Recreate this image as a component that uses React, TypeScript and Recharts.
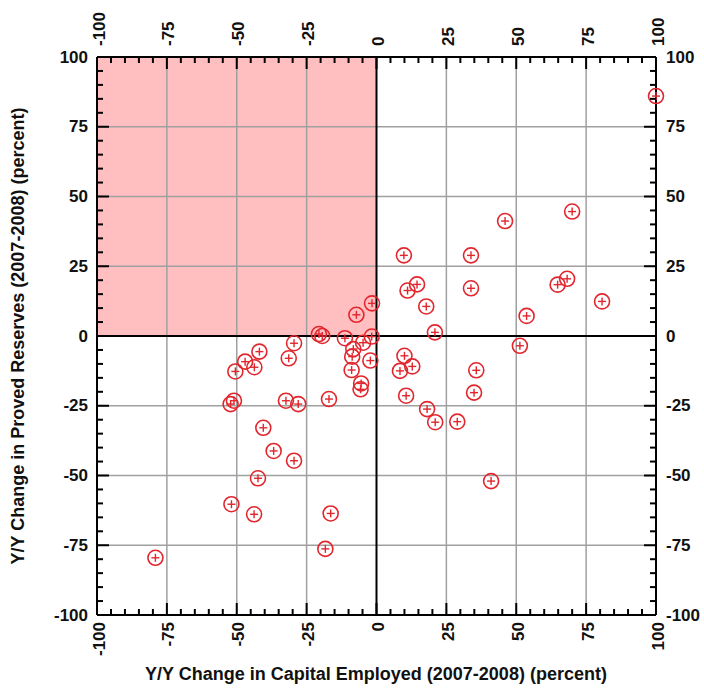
import React from "react";
import { ScatterChart, Scatter, XAxis, YAxis, ReferenceArea, ReferenceLine } from "recharts";

// Y/Y change in capital employed (x) and proved reserves (y), percent, one entry per company
const capitalEmployed = [
  100, 70, 46, 9.8, 33.8, 14.5, 11.1, 33.8, 17.8, 20.9, 64.8, 68.2, 80.7, 53.7,
  51.3, 10, 12.8, 8.4, 35.7, 34.9, 10.6, 18.1, 21, 28.9, 41,
  -1.6, -7.2, -20.6, -19.4, -11.3, -4.8, -1.7, -29.5, -31.4, -8.3, -8.7, -8.9, -2.2,
  -5.5, -5.7, -32.4, -28, -17, -41.9, -47, -43.7, -50.5, -51, -52.2, -40.5, -36.8,
  -29.5, -42.4, -51.9, -43.8, -16.4, -18.3, -79.1,
];
const provedReserves = [
  86, 44.6, 41.2, 28.9, 28.9, 18.5, 16.3, 17.1, 10.6, 1.3, 18.4, 20.5, 12.4, 7.2,
  -3.5, -7.1, -10.9, -12.5, -12.3, -20.3, -21.4, -26.2, -30.9, -30.7, -52,
  11.7, 7.6, 0.7, 0, -0.8, -2.4, -0.2, -2.6, -8, -4.7, -7.4, -12.2, -8.8,
  -17, -19.1, -23.2, -24.4, -22.6, -5.6, -9.2, -11.2, -12.7, -23.2, -24.4, -32.9, -41.2,
  -44.7, -51, -60.3, -63.9, -63.6, -76.3, -79.5,
];

const majorTicks = [-100, -75, -50, -25, 0, 25, 50, 75, 100];
const gridTicks = [-75, -50, -25, 25, 50, 75];

// four minor ticks between each pair of labelled ticks
const allTicks = majorTicks.flatMap((t, i) =>
  i === majorTicks.length - 1 ? [t] : [t, t + 5, t + 10, t + 15, t + 20]
);

const points = capitalEmployed.map((x, i) => ({ x, y: provedReserves[i] }));

const RED = "#e2262d";
const FONT = "'Liberation Sans', Arial, sans-serif";

const labelStyle = { fontFamily: FONT, fontWeight: 700, fontSize: 17, fill: "#111" };

function makeTick(side: "top" | "bottom" | "left" | "right") {
  return (props: any) => {
    const { x, y, payload } = props;
    const v = payload.value;
    const major = majorTicks.includes(v);
    const len = major ? 12 : 6;
    let line;
    let label = null;
    if (side === "bottom") {
      line = <line x1={x} y1={y} x2={x} y2={y - len} stroke="#000" strokeWidth={2} />;
      if (major)
        label = (
          <text x={x + 2} y={y + 7} transform={`rotate(-90, ${x + 2}, ${y + 7})`} textAnchor="end" dominantBaseline="central" {...labelStyle}>
            {v}
          </text>
        );
    } else if (side === "top") {
      line = <line x1={x} y1={y} x2={x} y2={y + len} stroke="#000" strokeWidth={2} />;
      if (major)
        label = (
          <text x={x + 2} y={y - 11} transform={`rotate(-90, ${x + 2}, ${y - 11})`} textAnchor="start" dominantBaseline="central" {...labelStyle}>
            {v}
          </text>
        );
    } else if (side === "left") {
      line = <line x1={x} y1={y} x2={x + len} y2={y} stroke="#000" strokeWidth={2} />;
      if (major)
        label = (
          <text x={x - 9} y={y} textAnchor="end" dominantBaseline="central" {...labelStyle}>
            {v}
          </text>
        );
    } else {
      line = <line x1={x} y1={y} x2={x - len} y2={y} stroke="#000" strokeWidth={2} />;
      if (major)
        label = (
          <text x={x + 10} y={y} textAnchor="start" dominantBaseline="central" {...labelStyle}>
            {v}
          </text>
        );
    }
    return (
      <g>
        {line}
        {label}
      </g>
    );
  };
}

const Marker = (props: any) => {
  const { cx, cy } = props;
  return (
    <g>
      <circle cx={cx} cy={cy} r={7.5} fill="none" stroke={RED} strokeWidth={1.6} />
      <line x1={cx - 4} y1={cy} x2={cx + 4} y2={cy} stroke={RED} strokeWidth={1.4} />
      <line x1={cx} y1={cy - 4} x2={cx} y2={cy + 4} stroke={RED} strokeWidth={1.4} />
    </g>
  );
};

const axisCommon = {
  type: "number" as const,
  domain: [-100, 100],
  ticks: allTicks,
  interval: 0 as const,
  tickSize: 0,
  tickMargin: 0,
  tickLine: false,
  axisLine: { stroke: "#000", strokeWidth: 2 },
};

export default function App() {
  return (
    <div style={{ position: "absolute", left: 0, top: 0, width: 704, height: 690, background: "#fff" }}>
      <ScatterChart width={704} height={690} margin={{ top: 27, right: 18, bottom: 45, left: 67 }}>
        <XAxis xAxisId="bottom" dataKey="x" orientation="bottom" height={30} tick={makeTick("bottom")} {...axisCommon} />
        {/* mirror axes carry no series; allowDataOverflow keeps them drawn on the fixed domain */}
        <XAxis xAxisId="top" dataKey="x" orientation="top" height={30} tick={makeTick("top")} allowDataOverflow {...axisCommon} />
        <YAxis yAxisId="left" dataKey="y" orientation="left" width={30} tick={makeTick("left")} {...axisCommon} />
        <YAxis yAxisId="right" dataKey="y" orientation="right" width={30} tick={makeTick("right")} allowDataOverflow {...axisCommon} />
        <ReferenceArea xAxisId="bottom" yAxisId="left" x1={-100} x2={0} y1={0} y2={100} fill="#ffbfc0" fillOpacity={1} stroke="none" />
        {gridTicks.map((t) => (
          <ReferenceLine key={`gx${t}`} xAxisId="bottom" yAxisId="left" x={t} stroke="#a0a0a0" strokeWidth={1.5} />
        ))}
        {gridTicks.map((t) => (
          <ReferenceLine key={`gy${t}`} xAxisId="bottom" yAxisId="left" y={t} stroke="#a0a0a0" strokeWidth={1.5} />
        ))}
        <ReferenceLine xAxisId="bottom" yAxisId="left" x={0} stroke="#000" strokeWidth={2} />
        <ReferenceLine xAxisId="bottom" yAxisId="left" y={0} stroke="#000" strokeWidth={2} />
        <Scatter xAxisId="bottom" yAxisId="left" data={points} shape={Marker} isAnimationActive={false} />
      </ScatterChart>
      <div
        style={{
          position: "absolute",
          left: 0,
          width: 752,
          top: 664,
          textAlign: "center",
          fontFamily: FONT,
          fontWeight: 700,
          fontSize: 18,
          color: "#111",
          whiteSpace: "nowrap",
        }}
      >
        Y/Y Change in Capital Employed (2007-2008) (percent)
      </div>
      <div
        style={{
          position: "absolute",
          left: 18,
          top: 336,
          transform: "translate(-50%, -50%) rotate(-90deg)",
          fontFamily: FONT,
          fontWeight: 700,
          fontSize: 18,
          color: "#111",
          whiteSpace: "nowrap",
        }}
      >
        Y/Y Change in Proved Reserves (2007-2008) (percent)
      </div>
    </div>
  );
}
